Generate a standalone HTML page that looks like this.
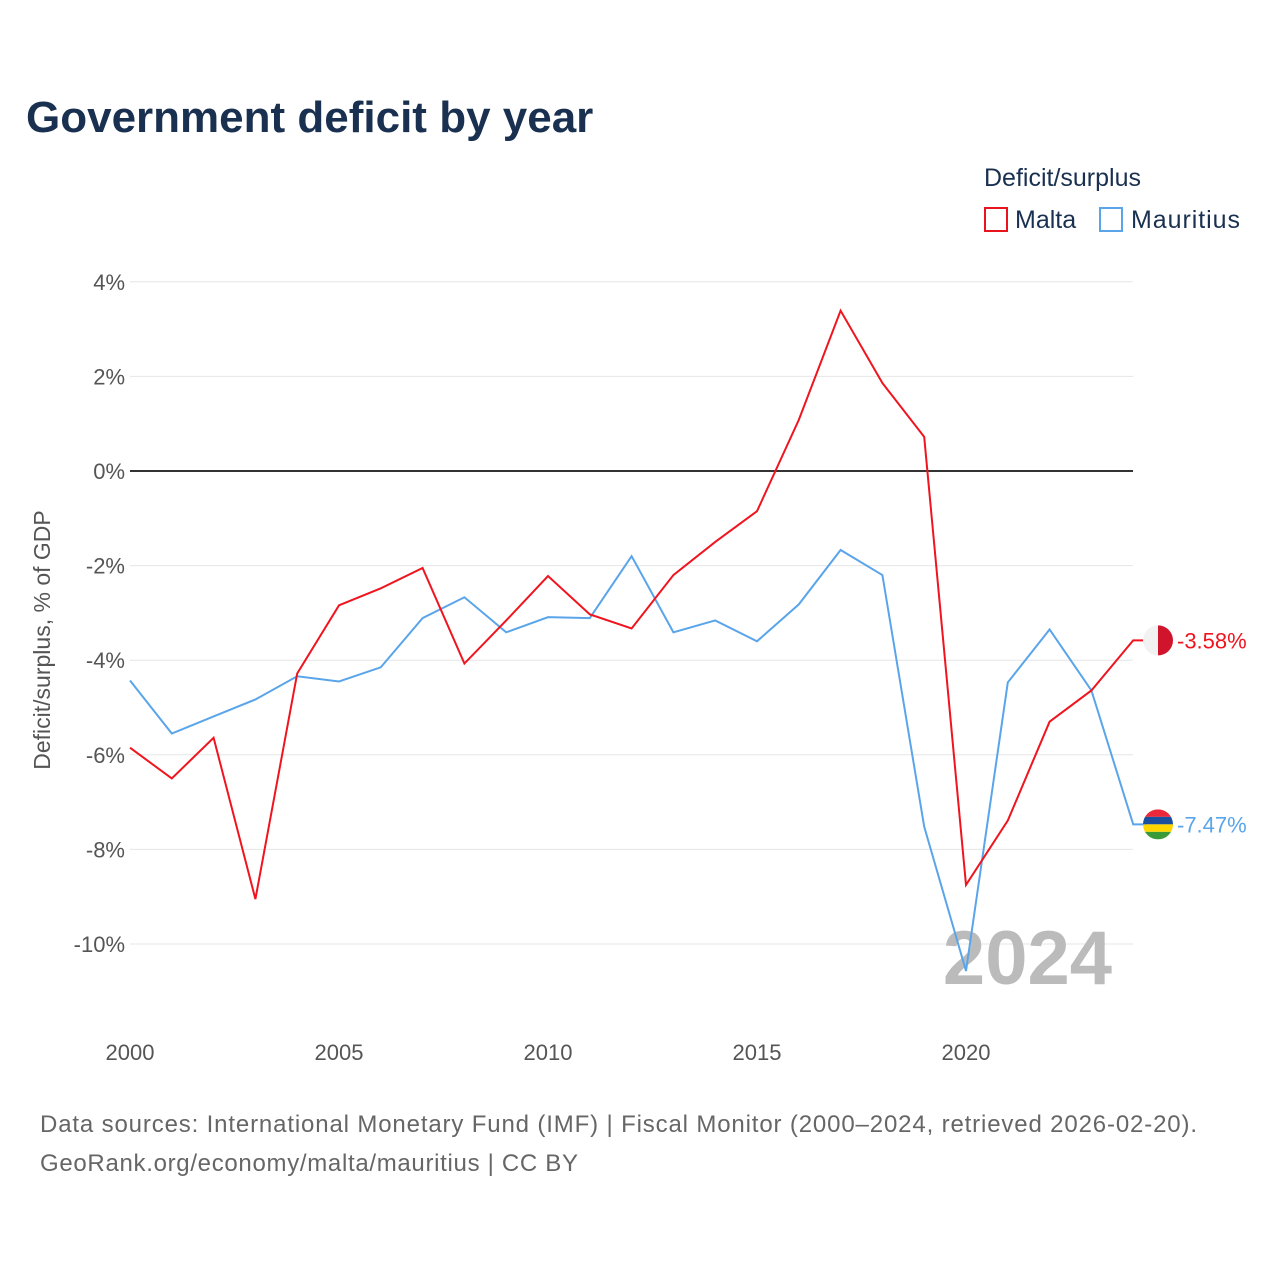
<!DOCTYPE html>
<html><head><meta charset="utf-8"><style>
body{margin:0;background:#fff;font-family:"Liberation Sans",sans-serif}
</style></head><body>
<svg width="1280" height="1280" xmlns="http://www.w3.org/2000/svg">
<text x="26" y="132" font-size="44" font-weight="bold" fill="#1a3050">Government deficit by year</text>
<text x="984" y="186" font-size="25" fill="#1a3050">Deficit/surplus</text>
<g><rect x="985" y="208" width="22" height="23" fill="none" stroke="#e8141e" stroke-width="2"/><text x="1015" y="228" font-size="25" fill="#1a3050">Malta</text></g>
<g><rect x="1100" y="208" width="22" height="23" fill="none" stroke="#5aa5ea" stroke-width="2"/><text x="1131" y="228" font-size="25" fill="#1a3050" textLength="109">Mauritius</text></g>
<g id="grid"></g>
<g id="yticks"></g>
<g id="xticks"></g>
<text transform="translate(50,640) rotate(-90)" text-anchor="middle" font-size="23" fill="#555">Deficit/surplus, % of GDP</text>
<text x="1112" y="984" text-anchor="end" font-size="76" font-weight="bold" fill="#bbb">2024</text>
<g id="series"></g>
<text x="40" y="1132" font-size="24" fill="#666" textLength="1157">Data sources: International Monetary Fund (IMF) | Fiscal Monitor (2000–2024, retrieved 2026-02-20).</text>
<text x="40" y="1171" font-size="24" fill="#666" textLength="538">GeoRank.org/economy/malta/mauritius | CC BY</text>
</svg>
<script>
const years=[2000,2001,2002,2003,2004,2005,2006,2007,2008,2009,2010,2011,2012,2013,2014,2015,2016,2017,2018,2019,2020,2021,2022,2023,2024];
const malta=[-5.85,-6.5,-5.64,-9.05,-4.28,-2.84,-2.48,-2.05,-4.07,-3.16,-2.22,-3.03,-3.33,-2.2,-1.5,-0.85,1.08,3.39,1.86,0.72,-8.75,-7.39,-5.3,-4.64,-3.58];
const mauritius=[-4.43,-5.55,-5.19,-4.83,-4.34,-4.45,-4.15,-3.11,-2.67,-3.41,-3.09,-3.11,-1.8,-3.41,-3.16,-3.6,-2.82,-1.67,-2.2,-7.52,-10.57,-4.47,-3.35,-4.64,-7.47];
const yTicks=[4,2,0,-2,-4,-6,-8,-10];
const xTicks=[2000,2005,2010,2015,2020];
const NS="http://www.w3.org/2000/svg";
const X=y=>130+(y-2000)*41.8, Y=v=>471-v*47.3;
function mk(t,a,p){const e=document.createElementNS(NS,t);for(const k in a)e.setAttribute(k,a[k]);p.appendChild(e);return e;}
const grid=document.getElementById('grid'),yt=document.getElementById('yticks'),xt=document.getElementById('xticks'),ser=document.getElementById('series');
yTicks.forEach(v=>{
 const l=mk('line',{x1:130,x2:1133,y1:Y(v),y2:Y(v),stroke:v===0?'#333':'#e6e6e6','stroke-width':v===0?2:1},grid);
 
 
 const t=mk('text',{x:125,y:Y(v)+8,'text-anchor':'end','font-size':22,fill:'#555'},yt);
 t.textContent=v+'%';
 
 
});
xTicks.forEach(v=>{
 const t=mk('text',{x:X(v),y:1060,'text-anchor':'middle','font-size':22,fill:'#555'},xt);
 t.textContent=v;
 
 
});
function draw(vals,color,name,label,flag){
 let d=vals.map((v,i)=>(i?'L':'M')+X(years[i])+','+Y(vals[i])).join(' ');
 const last=vals[vals.length-1];
 d+=' L1146,'+Y(last);
 const p=mk('path',{d:d,fill:'none',stroke:color,'stroke-width':2},ser);
 
 
 const g=mk('g',{},ser);
 
 
 const cy=Y(last);
 if(flag==='mt'){
  mk('circle',{cx:1158,cy:cy,r:15,fill:'#f2f2f2'},g);
  mk('path',{d:`M1158,${cy-15} A15,15 0 0 1 1158,${cy+15} Z`,fill:'#cf142b'},g);
 } else {
  const cp=mk('clipPath',{id:'cm'},g);mk('circle',{cx:1158,cy:cy,r:15},cp);
  const cols=['#ea2839','#1a4fa0','#ffd500','#3a9a3a'];
  cols.forEach((c,i)=>{mk('path',{d:`M1143,${cy-15+i*7.5} h30 v7.5 h-30 Z`,fill:c,'clip-path':'url(#cm)'},g);});
 }
 const t=mk('text',{x:1177,y:cy+8,'font-size':22,fill:color},ser);
 t.textContent=label;
 
 
}
draw(mauritius,'#5aa5ea','mauritius',mauritius[mauritius.length-1].toFixed(2)+'%','mu');
draw(malta,'#f0141e','malta',malta[malta.length-1].toFixed(2)+'%','mt');
</script>
</body></html>
